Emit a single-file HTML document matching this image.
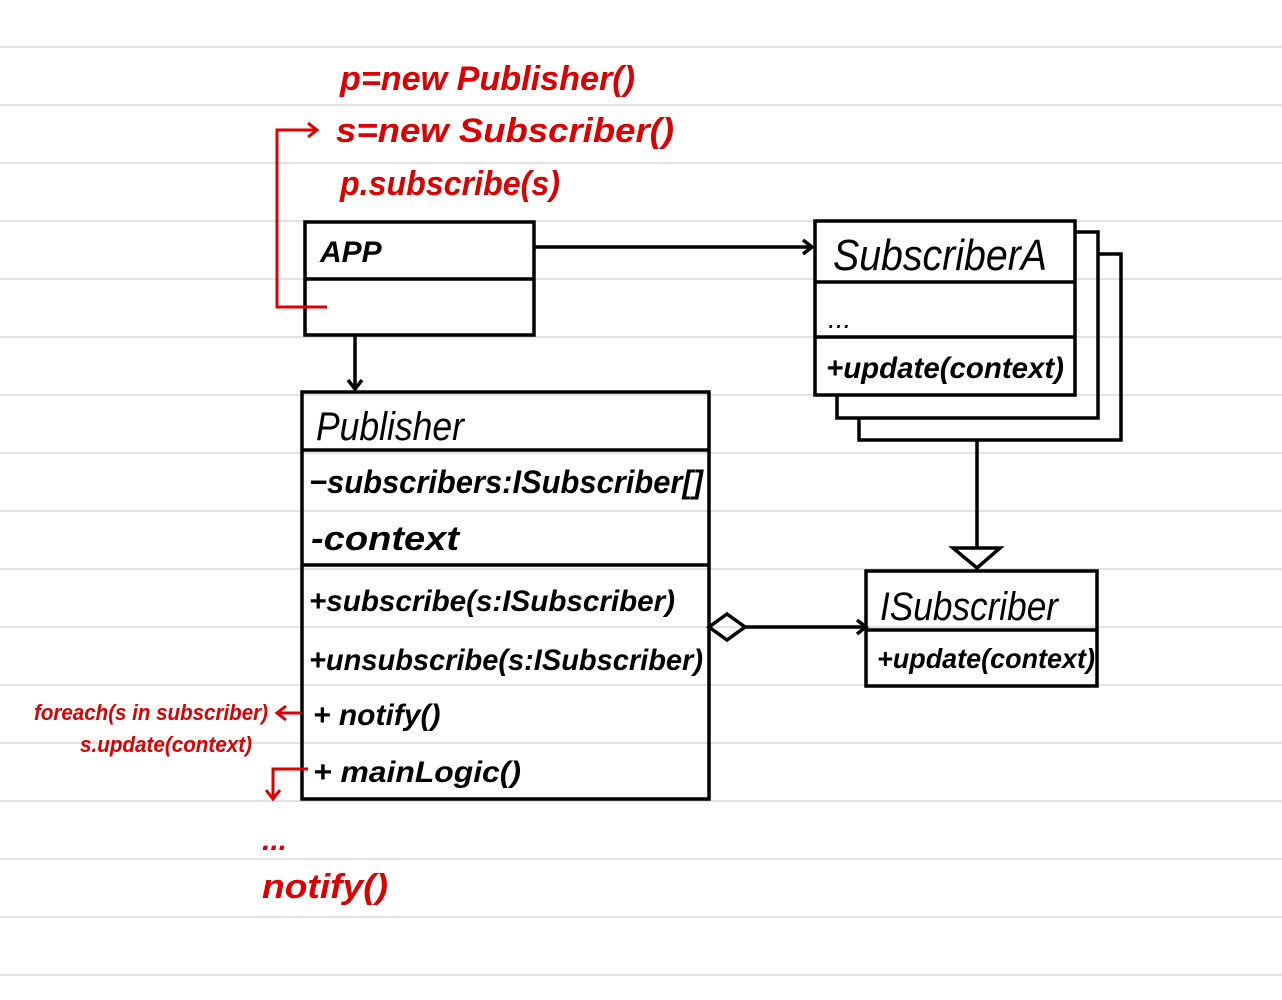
<!DOCTYPE html>
<html><head><meta charset="utf-8"><style>
html,body{margin:0;padding:0;background:#fff;width:1282px;height:1000px;overflow:hidden}
svg text{font-family:"Liberation Sans",sans-serif}
</style></head><body>
<svg width="1282" height="1000" viewBox="0 0 1282 1000" xmlns="http://www.w3.org/2000/svg">
<g stroke="#d8d8d8" stroke-width="1.5">
<line x1="0" y1="47" x2="1282" y2="47"/><line x1="0" y1="105" x2="1282" y2="105"/><line x1="0" y1="163" x2="1282" y2="163"/><line x1="0" y1="221" x2="1282" y2="221"/><line x1="0" y1="279" x2="1282" y2="279"/><line x1="0" y1="337" x2="1282" y2="337"/><line x1="0" y1="395" x2="1282" y2="395"/><line x1="0" y1="453" x2="1282" y2="453"/><line x1="0" y1="511" x2="1282" y2="511"/><line x1="0" y1="569" x2="1282" y2="569"/><line x1="0" y1="627" x2="1282" y2="627"/><line x1="0" y1="685" x2="1282" y2="685"/><line x1="0" y1="743" x2="1282" y2="743"/><line x1="0" y1="801" x2="1282" y2="801"/><line x1="0" y1="859" x2="1282" y2="859"/><line x1="0" y1="917" x2="1282" y2="917"/><line x1="0" y1="975" x2="1282" y2="975"/>
</g>
<g fill="none" stroke="#000" stroke-width="3.5">
<polyline points="1075,232 1098,232 1098,418 837,418 837,395"/>
<polyline points="1098,254 1121,254 1121,440 859,440 859,418"/>
<rect x="815" y="221" width="260" height="174" fill="#fff"/>
<line x1="815" y1="282" x2="1075" y2="282"/><line x1="815" y1="337" x2="1075" y2="337"/>
<line x1="977" y1="440" x2="977" y2="548"/>
<polygon points="953,548 1000,548 977,568" fill="#fff"/>
<rect x="866" y="571" width="231" height="115"/><line x1="866" y1="630" x2="1097" y2="630"/>
<rect x="302" y="392" width="407" height="407"/>
<line x1="302" y1="450" x2="709" y2="450"/><line x1="302" y1="565" x2="709" y2="565"/>
<rect x="305" y="222" width="229" height="113"/><line x1="305" y1="279" x2="534" y2="279"/>
<line x1="534" y1="247" x2="810" y2="247"/><polyline points="803,240 812,247 803,254"/>
<line x1="355" y1="335" x2="355" y2="388"/><polyline points="348,380 355,389 362,380"/>
<polygon points="709,627 727,614 745,627 727,640"/>
<line x1="745" y1="627" x2="865" y2="627"/><polyline points="857,620 866,627 857,634"/>
</g>
<g fill="none" stroke="#d00" stroke-width="3">
<polyline points="327,307 277,307 277,130 316,130"/><polyline points="308,123 317,130 308,137"/>
<line x1="302" y1="713" x2="278" y2="713"/><polyline points="286,706 277,713 286,720"/>
<polyline points="308,769 273,769 273,798"/><polyline points="266,790 273,799 280,790"/>
</g>
<g fill="#000" font-style="italic">
<text x="320" y="262" font-size="30" font-weight="bold">APP</text>
<text x="833" y="270" font-size="44" textLength="214" lengthAdjust="spacingAndGlyphs">SubscriberA</text>
<text x="828" y="328" font-size="28">...</text>
<text x="826" y="378" font-size="30" font-weight="bold" textLength="238" lengthAdjust="spacingAndGlyphs">+update(context)</text>
<text x="880" y="620" font-size="40" textLength="178" lengthAdjust="spacingAndGlyphs">ISubscriber</text>
<text x="877" y="668" font-size="28" font-weight="bold" textLength="218" lengthAdjust="spacingAndGlyphs">+update(context)</text>
<text x="316" y="440" font-size="40" textLength="148" lengthAdjust="spacingAndGlyphs">Publisher</text>
<text x="309" y="493" font-size="32" font-weight="bold" textLength="394" lengthAdjust="spacingAndGlyphs">−subscribers:ISubscriber[]</text>
<text x="311" y="550" font-size="34" font-weight="bold" textLength="148" lengthAdjust="spacingAndGlyphs">-context</text>
<text x="309" y="611" font-size="30" font-weight="bold" textLength="366" lengthAdjust="spacingAndGlyphs">+subscribe(s:ISubscriber)</text>
<text x="309" y="670" font-size="30" font-weight="bold" textLength="394" lengthAdjust="spacingAndGlyphs">+unsubscribe(s:ISubscriber)</text>
<text x="313" y="725" font-size="30" font-weight="bold">+ notify()</text>
<text x="313" y="782" font-size="30" font-weight="bold" textLength="208" lengthAdjust="spacingAndGlyphs">+ mainLogic()</text>
</g>
<g fill="#d00" font-style="italic" font-weight="bold">
<text x="340" y="90" font-size="34" textLength="295" lengthAdjust="spacingAndGlyphs">p=new  Publisher()</text>
<text x="336" y="142" font-size="34" textLength="338" lengthAdjust="spacingAndGlyphs">s=new  Subscriber()</text>
<text x="340" y="195" font-size="34" textLength="220" lengthAdjust="spacingAndGlyphs">p.subscribe(s)</text>
<text x="34" y="720" font-size="22" textLength="234" lengthAdjust="spacingAndGlyphs">foreach(s in subscriber)</text>
<text x="80" y="752" font-size="22" textLength="172" lengthAdjust="spacingAndGlyphs">s.update(context)</text>
<text x="262" y="850" font-size="30">...</text>
<text x="262" y="898" font-size="34" textLength="126" lengthAdjust="spacingAndGlyphs">notify()</text>
</g>
</svg>
</body></html>
